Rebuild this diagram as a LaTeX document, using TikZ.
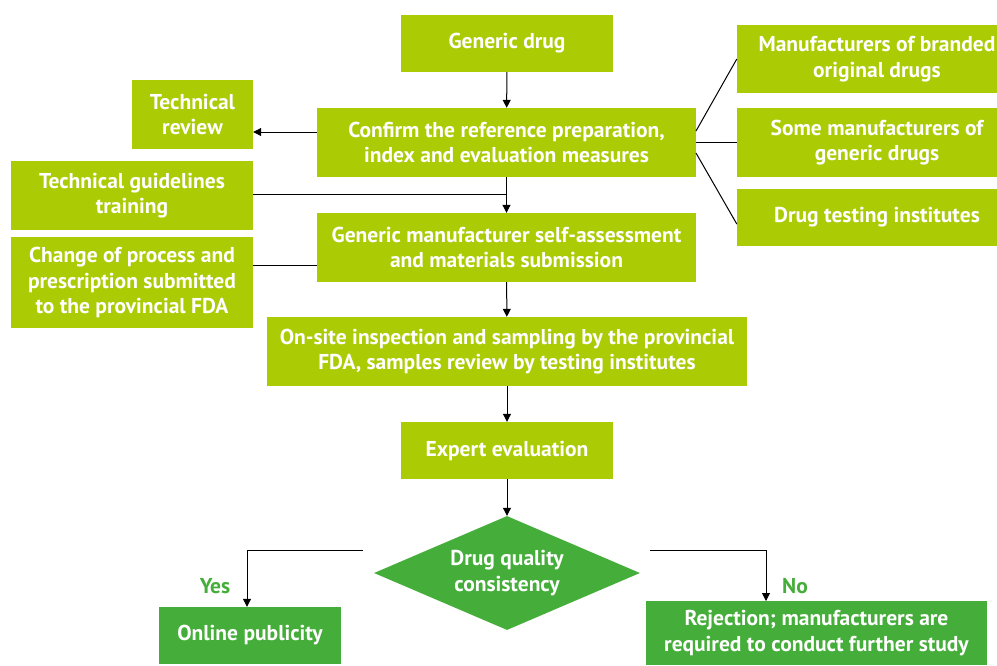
\documentclass[tikz,border=0pt]{standalone}
\usepackage{fontspec}
\setmainfont{PT Sans}
\usepackage{tikz}
\usetikzlibrary{shapes.geometric}
\usetikzlibrary{arrows.meta}
\usetikzlibrary{positioning}
\definecolor{lightgreen}{HTML}{ABCB05}
\definecolor{darkgreen}{HTML}{45AE3A}

\begin{document}
\begin{tikzpicture}
    [x=1pt, y=-1pt,
     box/.style={fill=lightgreen, text=white, align=center, inner sep=0pt,
       font=\bfseries\fontsize{21.5}{25.5}\selectfont},
     dbox/.style={box, fill=darkgreen},
     arr/.style={-{Triangle[length=8pt,width=8pt]}, line width=1pt},
     lbl/.style={text=darkgreen, font=\bfseries\fontsize{21.5}{25.5}\selectfont}]
    \clip (0,0) rectangle (997,665);

    \node (drug) [box, minimum width=212, minimum height=57] at (507, 43.5) {Generic drug};
    \node (review) [box, minimum width=121, minimum height=69] at (192.5, 114.5) {Technical\\review};
    \node (confirm) [box, minimum width=379, minimum height=69] at (506.5, 142.5) {
      Confirm the reference preparation,\\index and evaluation measures};
    \node (guide) [box, minimum width=242, minimum height=69] at (132, 195.5) {
      Technical guidelines\\training};
    \node (change) [box, minimum width=242, minimum height=91] at (132, 282.5) {
      Change of process and\\prescription submitted\\to the provincial FDA};
    \node (selfass) [box, minimum width=379, minimum height=69] at (506.5, 247.5) {
      Generic manufacturer self-assessment\\and materials submission};
    \node (onsite) [box, minimum width=480, minimum height=69] at (507, 351.5) {
      On-site inspection and sampling by the provincial\\FDA, samples review by testing institutes};
    \node (expert) [box, minimum width=212, minimum height=57] at (507, 450.5) {Expert evaluation};

    \node (branded) [box, minimum width=280, minimum height=68] at (877, 59) {
      Manufacturers of branded\\original drugs};
    \node (some) [box, minimum width=280, minimum height=69] at (877, 142.5) {
      Some manufacturers of\\generic drugs};
    \node (testing) [box, minimum width=280, minimum height=57] at (877, 217.5) {
      Drug testing institutes};

    \node (check) [dbox, diamond, aspect=2.3, minimum width=266, minimum height=114] at (507, 573) {
      Drug quality\\consistency};
    \node (online) [dbox, minimum width=182, minimum height=57] at (250, 635.5) {Online publicity};
    \node (reject) [dbox, minimum width=341, minimum height=64] at (816.5, 633) {
      Rejection; manufacturers are\\required to conduct further study};

    \node (yes) [lbl] at (215, 586) {Yes};
    \node (no) [lbl] at (795, 586) {No};

    % main column
    \draw [arr] (drug) -- (confirm);
    \draw [arr] (confirm) -- (selfass);
    \draw [arr] (selfass) -- (onsite);
    \draw [arr] (onsite) -- (expert);
    \draw [arr] (expert) -- (check);

    % side links
    \coordinate (c1) at (317, 132);
    \draw [arr] (c1) -- (c1 -| review.east);
    \draw [line width=1pt] (guide.east |- 0, 194) -- (confirm.south |- 0, 194);
    \coordinate (c2) at (317, 265);
    \draw [line width=1pt] (c2) -- (c2 -| change.east);

    % fan out to the right
    \draw [line width=1pt] (696, 131) -- (branded.west);
    \draw [line width=1pt] (696, 142.5) -- (some.west);
    \draw [line width=1pt] (696, 153) -- ([yshift=-6.5]testing.west);

    % decision
    \coordinate (yesstart) at (363, 550);
    \coordinate (nostart) at (650, 550);
    \coordinate (noend) at (766, 601);
    \draw [arr] (yesstart) -| ([xshift=-3]online.north);
    \draw [arr] (nostart) -| (noend);
\end{tikzpicture}
\end{document}
